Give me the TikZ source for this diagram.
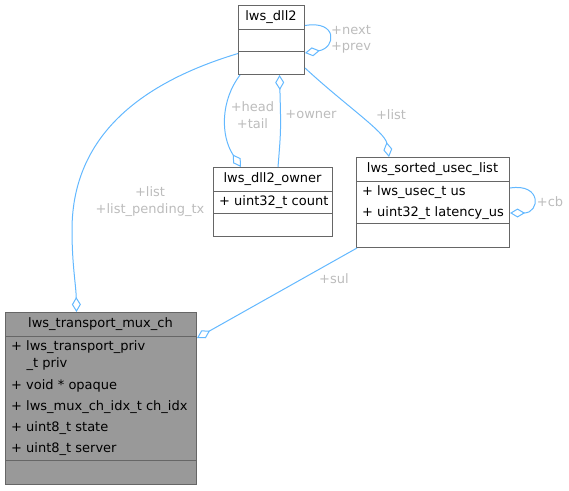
\documentclass[tikz,border=0pt]{standalone}
\usepackage{fontspec}
\setmainfont{DejaVu Sans}
\usetikzlibrary{arrows.meta}
\definecolor{boxline}{RGB}{102,102,102}
\definecolor{edgeblue}{RGB}{99,184,255}
\definecolor{lblgray}{RGB}{188,188,188}
\definecolor{muxfill}{RGB}{153,153,153}
\tikzset{
  box/.style={draw=boxline, line width=1pt, anchor=north west, inner sep=0pt, fill=white},
  sepline/.style={draw=boxline, line width=1pt},
  edge/.style={draw=edgeblue, line width=1pt, -{Diamond[open,length=15pt,width=9pt,line width=1pt]}},
  lbl/.style={text=lblgray, align=center, inner sep=0pt, font=\fontsize{13}{16.5}\selectfont},
  ttl/.style={inner sep=0pt, font=\fontsize{13}{16}\selectfont},
  member/.style={anchor=west, inner sep=0pt, font=\fontsize{13}{16}\selectfont},
}
\begin{document}
\begin{tikzpicture}[x=1pt,y=-1pt]
\useasboundingbox (0,0) rectangle (569,490);

% boxes
\node[box, minimum width=66pt, minimum height=69pt] (dll2) at (238,5) {};
\node[box, minimum width=119pt, minimum height=69pt] (owner) at (213,167) {};
\node[box, minimum width=153pt, minimum height=90pt] (sul) at (356,157) {};
\node[box, fill=muxfill, minimum width=191pt, minimum height=172pt] (mux) at (5,312) {};

% separators
\draw[sepline] ([yshift=-24pt]dll2.north west) -- ([yshift=-24pt]dll2.north east);
\draw[sepline] ([yshift=-46pt]dll2.north west) -- ([yshift=-46pt]dll2.north east);
\draw[sepline] ([yshift=-24.5pt]owner.north west) -- ([yshift=-24.5pt]owner.north east);
\draw[sepline] ([yshift=-46pt]owner.north west) -- ([yshift=-46pt]owner.north east);
\draw[sepline] ([yshift=-24pt]sul.north west) -- ([yshift=-24pt]sul.north east);
\draw[sepline] ([yshift=-66pt]sul.north west) -- ([yshift=-66pt]sul.north east);
\draw[sepline] ([yshift=-24pt]mux.north west) -- ([yshift=-24pt]mux.north east);
\draw[sepline] ([yshift=-148pt]mux.north west) -- ([yshift=-148pt]mux.north east);

% titles
\node[ttl] (t1) at (271,17.5) {lws\_dll2};
\node[ttl] (t2) at (272.5,179.5) {lws\_dll2\_owner};
\node[ttl] (t3) at (432.5,169) {lws\_sorted\_usec\_list};
\node[ttl] (t4) at (100.5,324) {lws\_transport\_mux\_ch};

% members
\node[member] (m1) at (219,202.5) {+ uint32\_t count};
\node[member] (m2) at (362,192.5) {+ lws\_usec\_t us};
\node[member] (m3) at (362,213) {+ uint32\_t latency\_us};
\node[member] (m4) at (11,347.5) {+ lws\_transport\_priv};
\node[member] (m5) at (26.5,364.5) {\_t priv};
\node[member] (m6) at (11,386) {+ void * opaque};
\node[member] (m7) at (11,407) {+ lws\_mux\_ch\_idx\_t ch\_idx};
\node[member] (m8) at (11,428) {+ uint8\_t state};
\node[member] (m9) at (11,449) {+ uint8\_t server};

% edges
\draw[edge] ([yshift=-13.5pt]dll2.west) .. controls (150,80) and (72,130) .. (72,230)
  .. controls (72,265) and (76,285) .. ([xshift=-24.5pt]mux.north);
\draw[edge] ([xshift=2pt]dll2.south west) .. controls (221,100) and (220,135) .. ([xshift=28pt]owner.north west);
\draw[edge] ([xshift=65pt]owner.north west) .. controls (281,130) .. ([xshift=41.5pt]dll2.south west);
\draw[edge] ([yshift=-20.5pt]dll2.north east) .. controls (338,20) and (336,48) .. ([yshift=-48pt]dll2.north east);
\draw[edge] ([yshift=7pt]dll2.south east) .. controls (345,105) and (385,132) .. ([xshift=33pt]sul.north west);
\draw[edge] ([yshift=-31pt]sul.north east) .. controls (542,183) and (540,213) .. ([yshift=-56pt]sul.north east);
\draw[edge] ([xshift=1pt]sul.south west) -- ([yshift=-26pt]mux.north east);

% labels
\node[lbl] (l1) at (150,201.5) {+list\\+list\_pending\_tx};
\node[lbl] (l2) at (252.5,115) {+head\\+tail};
\node[lbl] (l3) at (311,115) {+owner};
\node[lbl] (l4) at (351,39.5) {+next\\+prev};
\node[lbl] (l5) at (391,115) {+list};
\node[lbl] (l6) at (550,202) {+cb};
\node[lbl] (l7) at (334,279) {+sul};
\end{tikzpicture}
\end{document}
